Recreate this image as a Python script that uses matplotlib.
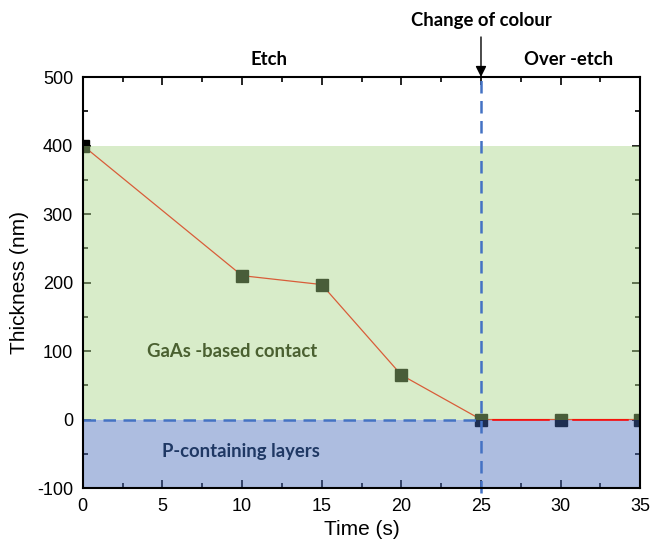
import matplotlib
matplotlib.use("Agg")
import matplotlib.pyplot as plt
from matplotlib.ticker import MultipleLocator

time_s = [0, 10, 15, 20, 25, 30, 35]
thickness_nm = [400, 210, 197, 65, 0, 0, 0]
x_ticks = [0, 5, 10, 15, 20, 25, 30, 35]
y_ticks = [-100, 0, 100, 200, 300, 400, 500]
change_time = 25
gaas_top = 400

plt.rcParams['font.family'] = ['Liberation Sans', 'DejaVu Sans']
plt.rcParams['axes.unicode_minus'] = False
fig = plt.figure(figsize=(6.52, 5.5), dpi=100)
ax = fig.add_axes([0.127, 0.1127, 0.855, 0.7473])

ax.plot(time_s, thickness_nm, color='#ff0000', lw=0.9, zorder=2)
ax.plot(time_s, thickness_nm, ls='none', marker='s', ms=9, color='black', zorder=3)

ax.fill_between([0, 35], 0, gaas_top, color='#a8d584', alpha=0.44, lw=0, zorder=4)
ax.fill_between([0, 35], -100, 0, color='#4669ba', alpha=0.44, lw=0, zorder=4)

# over-etch segment of the line, drawn above the fills (between markers)
i0 = time_s.index(change_time)
for k in range(i0, len(time_s) - 1):
    xa, xb = time_s[k], time_s[k + 1]
    pad = 0.75
    ax.plot([xa + pad, xb - pad], [thickness_nm[k], thickness_nm[k + 1]],
            color='#ff0000', lw=1.1, zorder=4.5)

ax.plot([0, change_time], [0, 0], ls=(0, (5, 3)), color='#4472c4', lw=1.8, zorder=5)
ax.plot([change_time, change_time], [-108, 500], ls=(0, (5, 3)), color='#4472c4', lw=1.8,
        zorder=5, clip_on=False)

ax.set_xlim(0, 35)
ax.set_ylim(-100, 500)
ax.set_xticks(x_ticks)
ax.set_yticks(y_ticks)
ax.xaxis.set_minor_locator(MultipleLocator(2.5))
ax.yaxis.set_minor_locator(MultipleLocator(50))
ax.tick_params(which='both', direction='in', top=True, right=True, width=1.2)
ax.tick_params(which='major', length=6, labelsize=13, pad=7)
ax.tick_params(which='minor', length=3.5)
for s in ax.spines.values():
    s.set_linewidth(1.5)
    s.set_zorder(6)

ax.set_xlabel('Time (s)', fontsize=15, labelpad=4)
ax.set_ylabel('Thickness (nm)', fontsize=15, labelpad=6)

bold = dict(family=['Lato', 'DejaVu Sans'], fontweight='bold')
ax.text(9.4, 100, 'GaAs -based contact', color='#4a6030', fontsize=13.3, ha='center', va='center', zorder=7, **bold)
ax.text(9.9, -47, 'P-containing layers', color='#1f3864', fontsize=13.3, ha='center', va='center', zorder=7, **bold)
ax.text(11.7, 525, 'Etch', color='black', fontsize=13.3, ha='center', va='center', **bold)
ax.text(30.5, 525, 'Over -etch', color='black', fontsize=13.3, ha='center', va='center', **bold)
ax.annotate('Change of colour', xy=(change_time, 500), xytext=(change_time, 583),
            ha='center', va='center', fontsize=13.3, annotation_clip=False,
            arrowprops=dict(arrowstyle='-|>', color='black', lw=1, mutation_scale=16,
                            shrinkA=4, shrinkB=0), **bold)

fig.savefig('out.png', dpi=100)
